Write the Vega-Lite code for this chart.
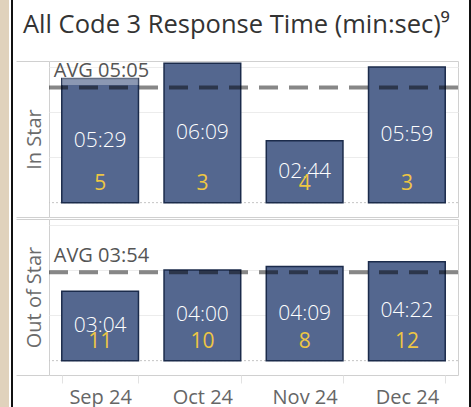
{
  "$schema": "https://vega.github.io/schema/vega-lite/v6.json",
  "padding": 0,
  "background": "#ffffff",
  "spacing": 0,
  "config": {
    "font": "Open Sans",
    "view": {"stroke": "#d0d0d0"},
    "concat": {"spacing": 0}
  },
  "datasets": {
    "bars": [
      {"panel": "In Star", "month": "Sep 24", "seconds": 329, "label": "05:29", "count": 5},
      {"panel": "In Star", "month": "Oct 24", "seconds": 369, "label": "06:09", "count": 3},
      {"panel": "In Star", "month": "Nov 24", "seconds": 164, "label": "02:44", "count": 4},
      {"panel": "In Star", "month": "Dec 24", "seconds": 359, "label": "05:59", "count": 3},
      {"panel": "Out of Star", "month": "Sep 24", "seconds": 184, "label": "03:04", "count": 11},
      {"panel": "Out of Star", "month": "Oct 24", "seconds": 240, "label": "04:00", "count": 10},
      {"panel": "Out of Star", "month": "Nov 24", "seconds": 249, "label": "04:09", "count": 8},
      {"panel": "Out of Star", "month": "Dec 24", "seconds": 262, "label": "04:22", "count": 12}
    ],
    "avgs": [
      {"panel": "In Star", "month": "Sep 24", "avg": 305, "label": "AVG 05:05"},
      {"panel": "Out of Star", "month": "Sep 24", "avg": 234, "label": "AVG 03:54"}
    ]
  },
  "hconcat": [
    {"width": 9, "height": 407, "data": {"values": [{}]}, "mark": {"type": "point", "opacity": 0}, "encoding": {}, "view": {"fill": "#e0d2bc", "stroke": null}},
    {"width": 2, "height": 407, "data": {"values": [{}]}, "mark": {"type": "point", "opacity": 0}, "encoding": {}, "view": {"fill": "#111111", "stroke": null}},
    {
      "spacing": 0,
      "vconcat": [
        {
          "width": 409, "height": 60,
          "data": {"values": [{"title": "All Code 3 Response Time (min:sec)⁹"}]},
          "mark": {"type": "text", "font": "Open Sans", "fontSize": 25.5, "color": "#333333", "align": "left", "baseline": "alphabetic", "dx": -230.5, "dy": 3.3},
          "encoding": {"text": {"field": "title"}},
          "view": {"stroke": null}
        },
        {
          "width": 409, "height": 156,
          "resolve": {"axis": {"y": "independent"}},
          "layer": [
            {
              "data": {"name": "avgs"},
              "transform": [{"filter": "datum.panel === 'In Star'"}],
              "mark": {"type": "rule", "color": "#c4c4c4", "strokeDash": [2, 2], "strokeWidth": 1},
              "encoding": {
                "y": {"datum": 0, "type": "quantitative", "scale": {"domain": [-38, 375], "nice": false, "zero": false},
                  "axis": {"orient": "right", "values": [120, 240, 360], "grid": true, "gridColor": "#ececec", "ticks": false, "labels": false, "domain": false, "title": null}}
              }
            },
            {
              "data": {"name": "bars"},
              "transform": [{"filter": "datum.panel === 'In Star'"}],
              "mark": {"type": "bar", "fill": "#54678f", "stroke": "#1b2b4b", "strokeWidth": 1.5},
              "encoding": {
                "x": {"field": "month", "type": "ordinal", "sort": ["Sep 24", "Oct 24", "Nov 24", "Dec 24"], "scale": {"domain": ["Sep 24", "Oct 24", "Nov 24", "Dec 24"], "paddingInner": 0.25, "paddingOuter": 0.125}, "axis": null},
                "y": {"field": "seconds", "type": "quantitative", "scale": {"domain": [-38, 375], "nice": false, "zero": false},
                  "axis": {"orient": "left", "values": [-38, 375], "grid": false, "labels": false, "domain": false, "ticks": true, "tickSize": 33, "tickColor": "#d0d0d0", "title": "In Star", "titleFont": "Open Sans", "titleFontSize": 20, "titleFontWeight": "normal", "titleColor": "#6b6b6b", "titleX": -14.5, "titleBaseline": "middle", "titlePadding": 0}}
              }
            },
            {
              "data": {"name": "avgs"},
              "transform": [{"filter": "datum.panel === 'In Star'"}],
              "mark": {"type": "bar", "fill": "#ffffff", "opacity": 0.32, "yOffset": -2.5},
              "encoding": {
                "x": {"field": "month", "type": "ordinal"},
                "y": {"field": "avg", "type": "quantitative", "scale": {"domain": [-38, 375], "nice": false, "zero": false}, "axis": null},
                "y2": {"datum": 375}
              }
            },
            {
              "data": {"name": "avgs"},
              "transform": [{"filter": "datum.panel === 'In Star'"}],
              "mark": {"type": "rule", "color": "#000000", "opacity": 0.47, "strokeDash": [19, 11], "strokeWidth": 4},
              "encoding": {
                "y": {"field": "avg", "type": "quantitative", "scale": {"domain": [-38, 375], "nice": false, "zero": false}, "axis": null}
              }
            },
            {
              "data": {"name": "avgs"},
              "transform": [{"filter": "datum.panel === 'In Star'"}],
              "mark": {"type": "text", "align": "left", "baseline": "alphabetic", "dx": -8, "dy": -10, "fontSize": 20, "color": "#555555"},
              "encoding": {
                "x": {"field": "month", "type": "ordinal", "bandPosition": 0},
                "y": {"field": "avg", "type": "quantitative", "scale": {"domain": [-38, 375], "nice": false, "zero": false}, "axis": null},
                "text": {"field": "label"}
              }
            },
            {
              "data": {"name": "bars"},
              "transform": [{"filter": "datum.panel === 'In Star'"}],
              "mark": {"type": "text", "baseline": "middle", "fontSize": 21, "fontWeight": 300, "color": "#ffffff"},
              "encoding": {
                "x": {"field": "month", "type": "ordinal"},
                "y": {"field": "seconds", "type": "quantitative", "stack": "zero", "bandPosition": 0.5, "scale": {"domain": [-38, 375], "nice": false, "zero": false}, "axis": null},
                "text": {"field": "label"}
              }
            },
            {
              "data": {"name": "bars"},
              "transform": [{"filter": "datum.panel === 'In Star'"}],
              "mark": {"type": "text", "baseline": "middle", "fontSize": 21, "dy": -19, "color": "#eec643"},
              "encoding": {
                "x": {"field": "month", "type": "ordinal"},
                "y": {"datum": 0, "type": "quantitative", "scale": {"domain": [-38, 375], "nice": false, "zero": false}, "axis": null},
                "text": {"field": "count"}
              }
            }
          ]
        },
        {
          "width": 409, "height": 156,
          "resolve": {"axis": {"y": "independent"}},
          "layer": [
            {
              "data": {"name": "avgs"},
              "transform": [{"filter": "datum.panel === 'Out of Star'"}],
              "mark": {"type": "rule", "color": "#c4c4c4", "strokeDash": [2, 2], "strokeWidth": 1},
              "encoding": {
                "y": {"datum": 0, "type": "quantitative", "scale": {"domain": [-38, 375], "nice": false, "zero": false},
                  "axis": {"orient": "right", "values": [120, 240, 360], "grid": true, "gridColor": "#ececec", "ticks": false, "labels": false, "domain": false, "title": null}}
              }
            },
            {
              "data": {"name": "bars"},
              "transform": [{"filter": "datum.panel === 'Out of Star'"}],
              "mark": {"type": "bar", "fill": "#54678f", "stroke": "#1b2b4b", "strokeWidth": 1.5},
              "encoding": {
                "x": {"field": "month", "type": "ordinal", "sort": ["Sep 24", "Oct 24", "Nov 24", "Dec 24"], "scale": {"domain": ["Sep 24", "Oct 24", "Nov 24", "Dec 24"], "paddingInner": 0.25, "paddingOuter": 0.125},
                  "axis": {"tickBand": "extent", "domain": false, "ticks": true, "tickSize": 8, "tickColor": "#e2e2e2", "labelFont": "Open Sans", "labelFontSize": 20, "labelColor": "#666666", "labelPadding": 4, "labelAngle": 0, "title": null, "grid": false}},
                "y": {"field": "seconds", "type": "quantitative", "scale": {"domain": [-38, 375], "nice": false, "zero": false},
                  "axis": {"orient": "left", "values": [-38, 375], "grid": false, "labels": false, "domain": false, "ticks": true, "tickSize": 33, "tickColor": "#d0d0d0", "title": "Out of Star", "titleFont": "Open Sans", "titleFontSize": 20, "titleFontWeight": "normal", "titleColor": "#6b6b6b", "titleX": -14.5, "titleBaseline": "middle", "titlePadding": 0}}
              }
            },
            {
              "data": {"name": "avgs"},
              "transform": [{"filter": "datum.panel === 'Out of Star'"}],
              "mark": {"type": "rule", "color": "#000000", "opacity": 0.47, "strokeDash": [19, 11], "strokeWidth": 4},
              "encoding": {
                "y": {"field": "avg", "type": "quantitative", "scale": {"domain": [-38, 375], "nice": false, "zero": false}, "axis": null}
              }
            },
            {
              "data": {"name": "avgs"},
              "transform": [{"filter": "datum.panel === 'Out of Star'"}],
              "mark": {"type": "text", "align": "left", "baseline": "alphabetic", "dx": -8, "dy": -10, "fontSize": 20, "color": "#555555"},
              "encoding": {
                "x": {"field": "month", "type": "ordinal", "bandPosition": 0},
                "y": {"field": "avg", "type": "quantitative", "scale": {"domain": [-38, 375], "nice": false, "zero": false}, "axis": null},
                "text": {"field": "label"}
              }
            },
            {
              "data": {"name": "bars"},
              "transform": [{"filter": "datum.panel === 'Out of Star'"}],
              "mark": {"type": "text", "baseline": "middle", "fontSize": 21, "fontWeight": 300, "color": "#ffffff"},
              "encoding": {
                "x": {"field": "month", "type": "ordinal"},
                "y": {"field": "seconds", "type": "quantitative", "stack": "zero", "bandPosition": 0.5, "scale": {"domain": [-38, 375], "nice": false, "zero": false}, "axis": null},
                "text": {"field": "label"}
              }
            },
            {
              "data": {"name": "bars"},
              "transform": [{"filter": "datum.panel === 'Out of Star'"}],
              "mark": {"type": "text", "baseline": "middle", "fontSize": 21, "dy": -19, "color": "#eec643"},
              "encoding": {
                "x": {"field": "month", "type": "ordinal"},
                "y": {"datum": 0, "type": "quantitative", "scale": {"domain": [-38, 375], "nice": false, "zero": false}, "axis": null},
                "text": {"field": "count"}
              }
            }
          ]
        }
      ]
    },
    {"width": 6, "height": 407, "data": {"values": [{}]}, "mark": {"type": "point", "opacity": 0}, "encoding": {}, "view": {"fill": "#ffffff", "stroke": null}},
    {"width": 2, "height": 407, "data": {"values": [{}]}, "mark": {"type": "point", "opacity": 0}, "encoding": {}, "view": {"fill": "#111111", "stroke": null}},
    {"width": 6, "height": 407, "data": {"values": [{}]}, "mark": {"type": "point", "opacity": 0}, "encoding": {}, "view": {"fill": "#e0d2bc", "stroke": null}}
  ]
}
